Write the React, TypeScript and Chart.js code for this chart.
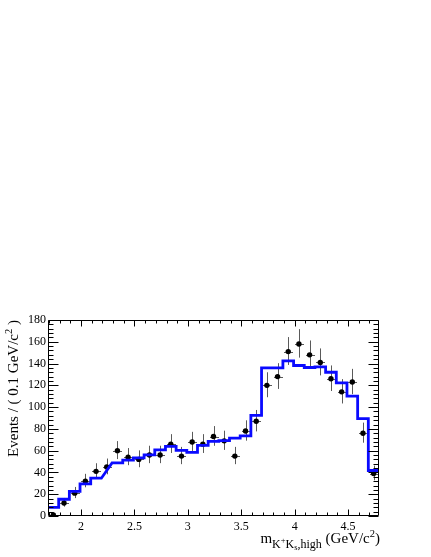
import React, { useEffect, useRef } from "react";
import { Chart, registerables } from "chart.js";

Chart.register(...registerables);

// ---- data ----
const binEdgesRange = [1.69, 4.79];
const binCenters = [
  1.74, 1.84, 1.94, 2.04, 2.14, 2.24, 2.34, 2.44, 2.54, 2.64, 2.74,
  2.84, 2.94, 3.04, 3.14, 3.24, 3.34, 3.44, 3.54, 3.64, 3.74, 3.84,
  3.94, 4.04, 4.14, 4.24, 4.34, 4.44, 4.54, 4.64, 4.74,
];
const dataCounts = [
  1, 12, 21, 32, 41, 45, 60, 54, 52, 56, 56,
  66, 55, 68, 66, 73, 69, 55, 78, 87, 120, 128,
  151, 158, 148, 141, 126, 114, 123, 76, 39,
];
const errLow = [
  0.83, 3.43, 4.56, 5.63, 6.39, 6.69, 7.73, 7.33, 7.19, 7.47, 7.47,
  8.11, 7.4, 8.23, 8.11, 8.53, 8.29, 7.4, 8.82, 9.31, 10.94, 11.3,
  12.28, 12.56, 12.15, 11.86, 11.21, 10.66, 11.08, 8.7, 6.23,
];
const errHigh = [
  2.3, 4.56, 5.68, 6.72, 7.45, 7.77, 8.79, 8.4, 8.26, 8.53, 8.53,
  9.17, 8.47, 9.29, 9.17, 9.59, 9.35, 8.47, 9.87, 10.37, 11.99, 12.35,
  13.32, 13.6, 13.2, 12.91, 12.26, 11.71, 12.13, 9.76, 7.29,
];
// fitted curve level per bin (null = joined by a straight segment)
const fitLevels = [
  8, 15.4, 22.7, 29.5, 34.7, null, 48.8, 51.3, 53.4, 56.2, 60.8,
  63.9, 60.2, 58.4, 64.8, 68.5, 69.2, 71.5, 73.5, 92.4, 136, 136,
  142.5, 138.2, 136.4, 137, 132, 122.2, 110, 89.4, 41.8,
];
const xTickValues = [2, 2.5, 3, 3.5, 4, 4.5];
const xTickLabels = ["2", "2.5", "3", "3.5", "4", "4.5"];
const yTickValues = [0, 20, 40, 60, 80, 100, 120, 140, 160, 180];
const binWidth = 0.1;

const SERIF = '"Liberation Serif", "Times New Roman", serif';

function buildCurve() {
  const pts: { x: number; y: number }[] = [];
  fitLevels.forEach((lv, i) => {
    if (lv === null) return;
    const lo = binCenters[i] - binWidth / 2;
    const hi = binCenters[i] + binWidth / 2;
    pts.push({ x: lo, y: lv });
    pts.push({ x: hi, y: lv });
  });
  return pts;
}

type Seg = { t: string; size: number; dy: number };

function drawSegs(ctx: CanvasRenderingContext2D, segs: Seg[], xEnd: number, y: number) {
  let total = 0;
  segs.forEach((s) => {
    ctx.font = `${s.size}px ${SERIF}`;
    total += ctx.measureText(s.t).width;
  });
  let x = xEnd - total;
  segs.forEach((s) => {
    ctx.font = `${s.size}px ${SERIF}`;
    ctx.fillText(s.t, x, y + s.dy);
    x += ctx.measureText(s.t).width;
  });
}

const decorPlugin = {
  id: "rootDecor",
  beforeDatasetsDraw(chart: any) {
    const { ctx, chartArea: a, scales } = chart;
    const xs = scales.x;
    const ys = scales.y;
    ctx.save();
    ctx.beginPath();
    ctx.rect(a.left, a.top, a.right - a.left, a.bottom - a.top);
    ctx.clip();
    ctx.strokeStyle = "#5a5a5a";
    ctx.lineWidth = 1;
    binCenters.forEach((c, i) => {
      const px = Math.round(xs.getPixelForValue(c)) + 0.5;
      const py = ys.getPixelForValue(dataCounts[i]);
      const top = ys.getPixelForValue(dataCounts[i] + errHigh[i]);
      const bot = ys.getPixelForValue(Math.max(0, dataCounts[i] - errLow[i]));
      ctx.beginPath();
      ctx.moveTo(px, top);
      ctx.lineTo(px, bot);
      const pyr = Math.round(py) + 0.5;
      ctx.moveTo(px - 4.5, pyr);
      ctx.lineTo(px + 4.5, pyr);
      ctx.stroke();
    });
    ctx.restore();
  },
  afterDraw(chart: any) {
    const { ctx, chartArea: a, scales } = chart;
    const xs = scales.x;
    const ys = scales.y;
    ctx.save();
    ctx.strokeStyle = "#000";
    ctx.lineWidth = 1;
    const L = Math.round(a.left) + 0.5;
    const R = Math.round(a.right) - 0.5;
    const T = Math.round(a.top) + 0.5;
    const B = Math.round(a.bottom) - 0.5;
    ctx.beginPath();
    ctx.rect(L, T, R - L, B - T);
    ctx.stroke();
    ctx.beginPath();
    // x ticks every 0.1, major every 0.5
    for (let k = 17; k <= 47; k++) {
      const v = k / 10;
      const px = Math.round(xs.getPixelForValue(v)) + 0.5;
      const len = k % 5 === 0 ? 6 : 3;
      ctx.moveTo(px, B);
      ctx.lineTo(px, B - len);
      ctx.moveTo(px, T);
      ctx.lineTo(px, T + len);
    }
    // y ticks every 4, major every 20
    for (let v = 0; v <= 180; v += 4) {
      const py = Math.round(ys.getPixelForValue(v)) + 0.5;
      const len = v % 20 === 0 ? 10 : 5;
      ctx.moveTo(L, py);
      ctx.lineTo(L + len, py);
      ctx.moveTo(R, py);
      ctx.lineTo(R - len, py);
    }
    ctx.stroke();

    ctx.fillStyle = "#000";
    ctx.textBaseline = "alphabetic";
    ctx.textAlign = "left";
    // x title
    drawSegs(
      ctx,
      [
        { t: "m", size: 15, dy: 0 },
        { t: "K", size: 12, dy: 5 },
        { t: "+", size: 8.5, dy: -0.5 },
        { t: "K", size: 12, dy: 5 },
        { t: "s", size: 8.5, dy: 7 },
        { t: ",high", size: 12, dy: 5 },
        { t: " (GeV/c", size: 15, dy: 0 },
        { t: "2", size: 10.5, dy: -6 },
        { t: ")", size: 15, dy: 0 },
      ],
      380,
      543
    );
    // y title
    ctx.save();
    ctx.translate(18, 320);
    ctx.rotate(-Math.PI / 2);
    drawSegs(
      ctx,
      [
        { t: "Events / ( 0.1 GeV/c", size: 15, dy: 0 },
        { t: "2", size: 10.5, dy: -6 },
        { t: " )", size: 15, dy: 0 },
      ],
      0,
      0
    );
    ctx.restore();
    ctx.restore();
  },
};

export default function App() {
  const ref = useRef<HTMLCanvasElement | null>(null);
  useEffect(() => {
    if (!ref.current) return;
    const chart = new Chart(ref.current, {
      type: "scatter",
      data: {
        datasets: [
          {
            type: "line",
            data: buildCurve(),
            borderColor: "#0a0aff",
            borderWidth: 2.8,
            pointRadius: 0,
            fill: false,
            tension: 0,
            spanGaps: true,
            showLine: true,
          } as any,
          {
            type: "scatter",
            data: binCenters.map((c, i) => ({ x: c, y: dataCounts[i] })),
            backgroundColor: "#000",
            borderColor: "#000",
            borderWidth: 0,
            pointRadius: 2.7,
          },
        ],
      },
      options: {
        responsive: false,
        maintainAspectRatio: false,
        animation: false,
        devicePixelRatio: 1,
        layout: { padding: { left: 0, top: 320, right: 52, bottom: 0 } },
        plugins: {
          legend: { display: false },
          tooltip: { enabled: false },
          title: { display: false },
        },
        scales: {
          x: {
            type: "linear",
            min: binEdgesRange[0],
            max: binEdgesRange[1],
            grid: { display: false, drawTicks: false },
            border: { display: false },
            afterBuildTicks: (s: any) => {
              s.ticks = xTickValues.map((v) => ({ value: v }));
            },
            afterFit: (s: any) => {
              s.height = 41;
              s.paddingLeft = 0;
              s.paddingRight = 0;
              s.paddingTop = 0;
              s.paddingBottom = 0;
            },
            ticks: {
              autoSkip: false,
              maxRotation: 0,
              minRotation: 0,
              padding: 4,
              color: "#000",
              font: { family: SERIF, size: 12 },
              callback: (v: any) => {
                const i = xTickValues.indexOf(Number(v));
                return i >= 0 ? xTickLabels[i] : "";
              },
            },
          },
          y: {
            type: "linear",
            min: 0,
            max: 180,
            grid: { display: false, drawTicks: false },
            border: { display: false },
            afterBuildTicks: (s: any) => {
              s.ticks = yTickValues.map((v) => ({ value: v }));
            },
            afterFit: (s: any) => {
              s.width = 48;
              s.paddingLeft = 0;
              s.paddingRight = 0;
              s.paddingTop = 0;
              s.paddingBottom = 0;
            },
            ticks: {
              padding: 2,
              color: "#000",
              font: { family: SERIF, size: 12 },
              callback: (v: any) => String(v),
            },
          },
        },
      },
      plugins: [decorPlugin],
    });
    return () => chart.destroy();
  }, []);
  return (
    <div style={{ position: "fixed", left: 0, top: 0, width: 431, height: 557, background: "#fff" }}>
      <canvas ref={ref} width={431} height={557} style={{ width: 431, height: 557, display: "block" }} />
    </div>
  );
}
